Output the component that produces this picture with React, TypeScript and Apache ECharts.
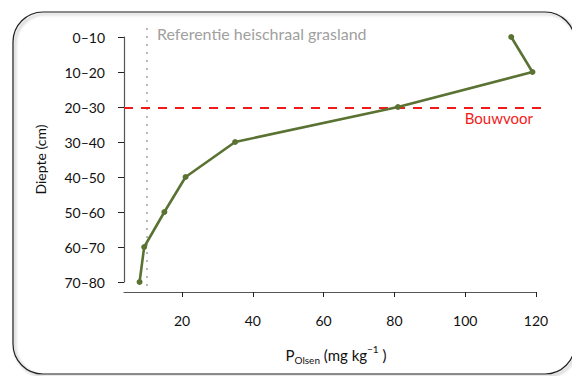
import React, { useEffect, useRef } from "react";
import * as echarts from "echarts";

const depthCategories = ["0–10", "10–20", "20–30", "30–40", "40–50", "50–60", "60–70", "70–80"];
const pOlsenValues = [113, 119, 81, 35, 21, 15, 9.3, 8];
const xTickValues = [20, 40, 60, 80, 100, 120];
const referenceValue = 10;
const referenceLabel = "Referentie heischraal grasland";
const plowLayerIndex = 2;
const plowLayerLabel = "Bouwvoor";

const FONT = "Lato";

export default function App() {
  const ref = useRef<HTMLDivElement>(null);
  useEffect(() => {
    if (!ref.current) return;
    const chart = echarts.init(ref.current, undefined, { renderer: "svg" });
    const catPad = 0.257;
    chart.setOption({
      animation: false,
      backgroundColor: "#fff",
      textStyle: { fontFamily: FONT },
      grid: [
        { left: 124, right: 36, top: 37, bottom: 94 },
        { left: 124, right: 29, top: 28, bottom: 84 },
      ],
      xAxis: [
        {
          type: "value",
          gridIndex: 0,
          min: 3.6,
          max: 120,
          offset: 10,
          axisLine: { show: true, lineStyle: { color: "#555", width: 1.2 } },
          axisTick: { show: true, length: 5, customValues: xTickValues, lineStyle: { color: "#222" } },
          axisLabel: { customValues: xTickValues, fontSize: 14, color: "#111", margin: 21, fontFamily: FONT },
          splitLine: { show: false },
          name: "{n|P}{sub|Olsen}{n| (mg kg}{sup|−1}{n| )}",
          nameLocation: "middle",
          nameGap: 52,
          nameTextStyle: {
            padding: [0, 0, 0, 12],
            rich: {
              n: { fontSize: 15, color: "#111", fontFamily: FONT, verticalAlign: "bottom", lineHeight: 18 },
              sub: { fontSize: 10, color: "#111", fontFamily: FONT, verticalAlign: "bottom", lineHeight: 12, padding: [0, 0, -3, 0] },
              sup: { fontSize: 10, color: "#111", fontFamily: FONT, verticalAlign: "top", lineHeight: 12, padding: [0, 0, 6, 0] },
            },
          },
        },
        {
          type: "value",
          gridIndex: 1,
          min: 3.6,
          max: 3.6 + (543 - 124) / 3.54,
          show: false,
          splitLine: { show: false },
        },
      ],
      yAxis: [
        {
          type: "category",
          gridIndex: 0,
          data: depthCategories,
          inverse: true,
          boundaryGap: false,
          axisLine: { show: true, lineStyle: { color: "#555", width: 1.2 } },
          axisTick: { show: true, length: 6, lineStyle: { color: "#222" } },
          axisLabel: { fontSize: 14, color: "#111", margin: 19, fontFamily: FONT },
          splitLine: { show: false },
          name: "Diepte (cm)",
          nameLocation: "middle",
          nameGap: 77,
          nameTextStyle: { fontSize: 14, color: "#111", fontFamily: FONT },
        },
        {
          type: "value",
          gridIndex: 1,
          inverse: true,
          min: -catPad,
          max: depthCategories.length - 1 + catPad,
          show: false,
          splitLine: { show: false },
        },
      ],
      series: [
        {
          type: "line",
          xAxisIndex: 1,
          yAxisIndex: 1,
          data: [],
          silent: true,
          markLine: {
            silent: true,
            symbol: "none",
            label: { show: false },
            data: [
              { xAxis: referenceValue, lineStyle: { color: "#b8b8b8", type: [2, 6], width: 2 } },
              { yAxis: plowLayerIndex, lineStyle: { color: "#f01a1a", type: [9, 8], width: 2 } },
            ],
          },
        },
        {
          type: "line",
          xAxisIndex: 0,
          yAxisIndex: 0,
          data: pOlsenValues.map((v, i) => [v, depthCategories[i]]),
          symbol: "circle",
          symbolSize: 6,
          lineStyle: { color: "#5a7232", width: 2.6 },
          itemStyle: { color: "#5a7232" },
          z: 5,
        },
      ],
      graphic: [
        {
          type: "rect",
          shape: { x: 13, y: 12, width: 562, height: 362, r: 30 },
          style: { fill: "none", stroke: "#222", lineWidth: 1.2, shadowBlur: 3, shadowOffsetX: 2, shadowOffsetY: 2, shadowColor: "rgba(0,0,0,0.35)" },
          z: -10,
          silent: true,
        },
        {
          type: "text",
          x: 157,
          y: 33,
          style: { text: referenceLabel, fill: "#a0a0a0", fontSize: 16, fontFamily: FONT, verticalAlign: "middle", textAlign: "left" },
          silent: true,
        },
        {
          type: "text",
          x: 533,
          y: 118,
          style: { text: plowLayerLabel, fill: "#f01a1a", fontSize: 15, fontFamily: FONT, verticalAlign: "middle", textAlign: "right" },
          silent: true,
        },
      ],
    });
    return () => chart.dispose();
  }, []);
  return <div ref={ref} style={{ position: "fixed", left: 0, top: 0, width: 572, height: 376 }} />;
}
